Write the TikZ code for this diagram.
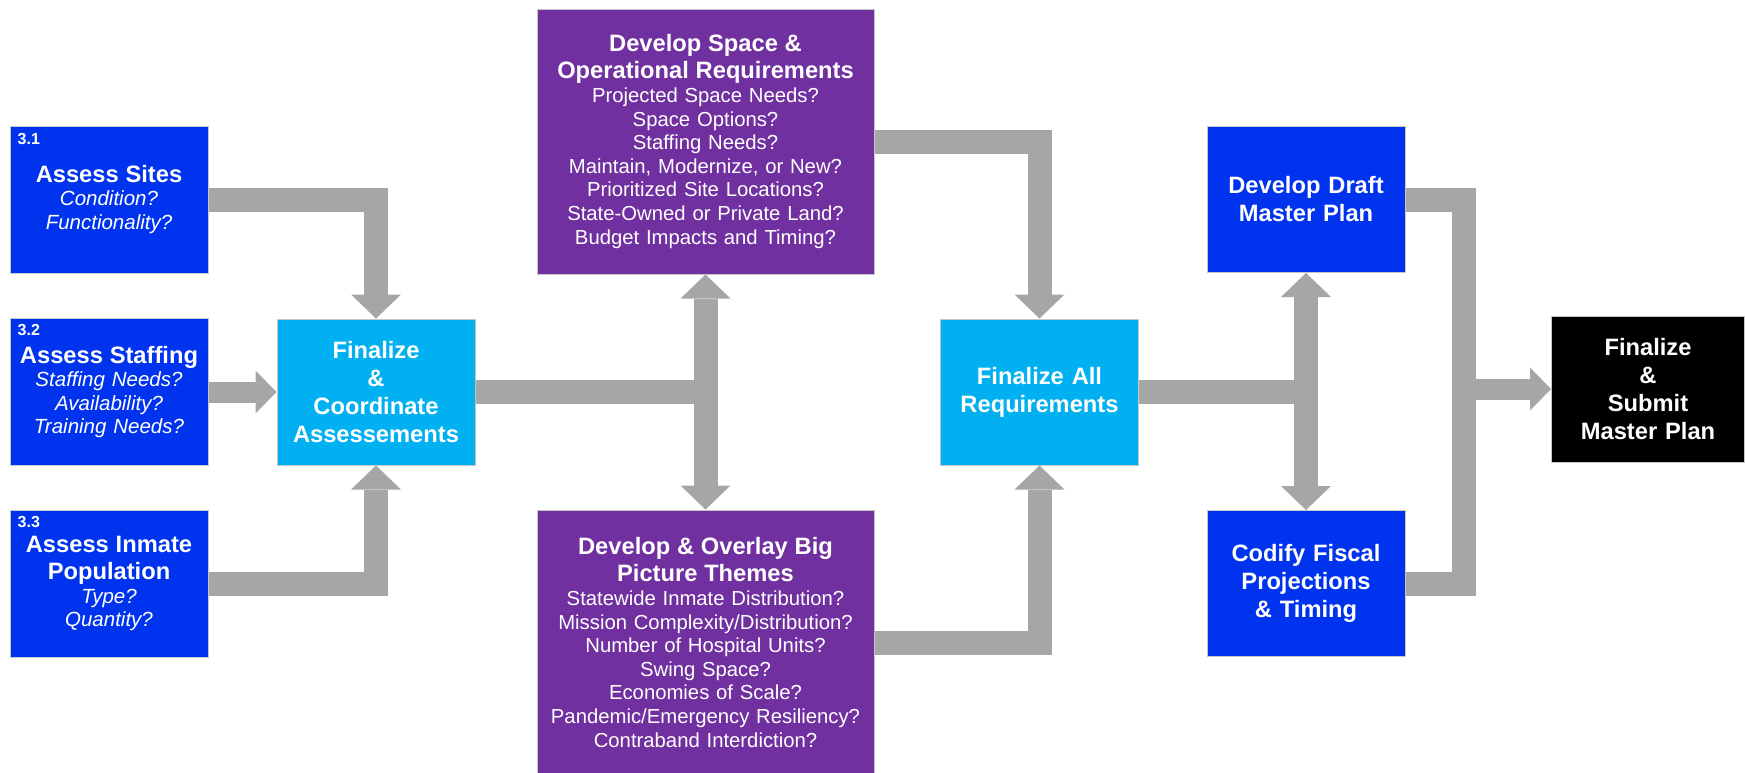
\documentclass[tikz,border=0pt]{standalone}
\usepackage{fontspec}
\setmainfont{Liberation Sans}
\usetikzlibrary{arrows.meta}
\definecolor{deepblue}{RGB}{0,51,238}
\definecolor{skyblue}{RGB}{0,176,240}
\definecolor{plum}{RGB}{112,48,160}
\definecolor{flowgray}{RGB}{166,166,166}
\newcommand{\boxtitle}{\fontsize{23.7}{27}\selectfont\bfseries\upshape}

\begin{document}
\begin{tikzpicture}[x=1pt,y=-1pt,
  >={Triangle[width=50pt,length=24pt,line width=0pt]},
  card/.style={draw=gray!45,line width=1pt,text=white,align=center,inner sep=4pt},
  assess/.style={card,fill=deepblue,text width=190pt,minimum height=147pt,
    font=\fontsize{20.5}{23.5}\selectfont\itshape},
  hub/.style={card,fill=skyblue,text width=190pt,minimum height=146pt,
    font=\fontsize{23.7}{28}\selectfont\bfseries},
  theme/.style={card,fill=plum,text width=329pt,minimum height=265pt,
    font=\fontsize{20.3}{23.6}\selectfont},
  plan/.style={hub,fill=deepblue},
  goal/.style={hub,fill=black,text width=185pt},
  num/.style={text=white,inner sep=0pt,font=\fontsize{16}{16}\selectfont\bfseries},
  flow/.style={draw=flowgray,line width=24pt,line join=miter},
  slimflow/.style={flow,line width=21pt,-{Triangle[width=43pt,length=21pt,line width=0pt]}}]
  \useasboundingbox (0,0) rectangle (1745,772);

  \node[assess] (sites) at (109,199.5) {{\boxtitle Assess Sites\par}Condition?\\Functionality?};
  \node[assess] (staff) at (109,392) {{\boxtitle Assess Staffing\par}Staffing Needs?\\Availability?\\Training Needs?};
  \node[assess] (inmate) at (109,583.5) {{\boxtitle Assess Inmate\\Population\par}Type?\\Quantity?};
  \node[num,anchor=north west] (n31) at ([xshift=8pt,yshift=-8pt]sites.north west) {3.1};
  \node[num,anchor=north west] (n32) at ([xshift=8pt,yshift=-6pt]staff.north west) {3.2};
  \node[num,anchor=north west] (n33) at ([xshift=8pt,yshift=-7pt]inmate.north west) {3.3};

  \node[hub] (coord) at (376,392) {Finalize\\\&\\Coordinate\\Assessements};

  \node[theme] (space) at (705.5,141.5) {{\boxtitle Develop Space \&\\Operational Requirements\par}Projected Space Needs?\\Space Options?\\Staffing Needs?\\Maintain, Modernize, or New?\\Prioritized Site Locations?\\State-Owned or Private Land?\\Budget Impacts and Timing?};
  \node[theme] (big) at (705.5,642.5) {{\boxtitle Develop \& Overlay Big\\Picture Themes\par}Statewide Inmate Distribution?\\Mission Complexity/Distribution?\\Number of Hospital Units?\\Swing Space?\\Economies of Scale?\\Pandemic/Emergency Resiliency?\\Contraband Interdiction?};

  \node[hub] (allreq) at (1039.5,392) {Finalize All\\Requirements};
  \node[plan] (draft) at (1306,199.5) {Develop Draft\\Master Plan};
  \node[plan] (fiscal) at (1306,583.5) {Codify Fiscal\\Projections\\\& Timing};
  \node[goal] (submit) at (1648,389) {Finalize\\\&\\Submit\\Master Plan};
  \coordinate (join) at (1464,389);

  \draw[flow,->] (sites.east) -| (coord.north);
  \draw[slimflow] (staff.east) -- (coord.west);
  \draw[flow,->] (inmate.east) -| (coord.south);
  \draw[flow] (coord.east) -- (space.south |- coord.east);
  \draw[flow,<->] (space.south) -- (big.north);
  \draw[flow,->] (space.east) -| (allreq.north);
  \draw[flow,->] (big.east) -| (allreq.south);
  \draw[flow] (allreq.east) -- (draft.south |- allreq.east);
  \draw[flow,<->] (draft.south) -- (fiscal.north);
  \draw[flow] (draft.east) -| (join) |- (fiscal.east);
  \draw[slimflow] (join) -- (submit.west);
\end{tikzpicture}
\end{document}
